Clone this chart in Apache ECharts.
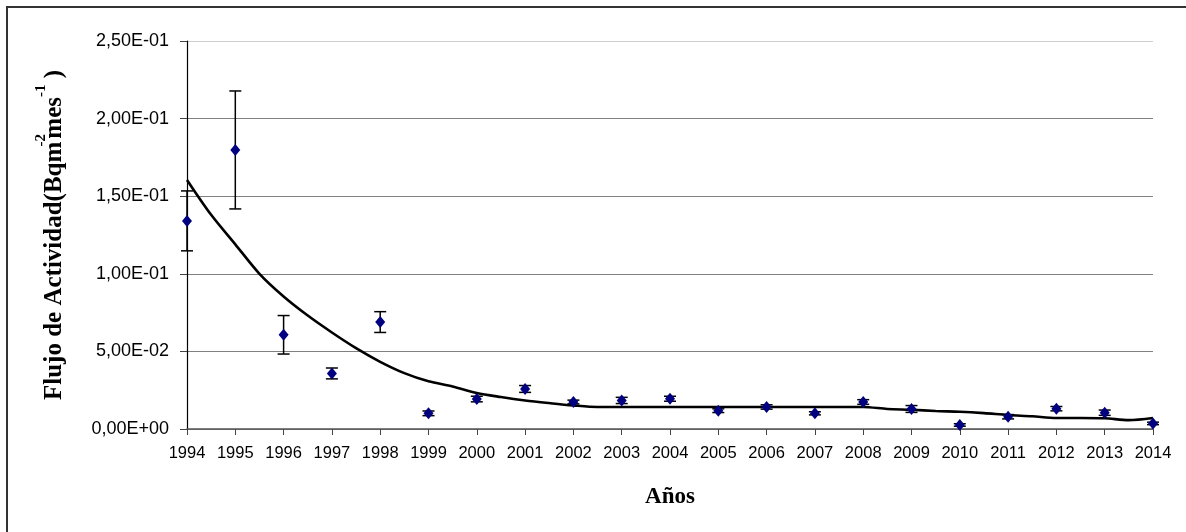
<!DOCTYPE html>
<html>
<head>
<meta charset="utf-8">
<script src="https://cdn.jsdelivr.net/npm/echarts@6/dist/echarts.min.js"></script>
<style>html,body{margin:0;padding:0;background:#fff}#c{width:1186px;height:532px}</style>
</head>
<body>
<div id="c"></div>
<script>
// ---- data ----
var years = [1994,1995,1996,1997,1998,1999,2000,2001,2002,2003,2004,2005,2006,2007,2008,2009,2010,2011,2012,2013,2014];
var flux = [0.1341,0.1798,0.0607,0.0358,0.0689,0.0101,0.0193,0.0258,0.0174,0.0184,0.0195,0.0118,0.0142,0.0101,0.0174,0.0129,0.0026,0.0079,0.0131,0.0105,0.0036];
var fluxErr = [0.0193,0.0380,0.0124,0.0035,0.0067,0.0015,0.0018,0.0022,0.0012,0.0020,0.0016,0.0012,0.0014,0.0010,0.0015,0.0022,0.0008,0.0014,0.0014,0.0017,0.0008];
var trendX = [1994,1994.5,1995,1995.5,1996,1996.5,1997,1997.5,1998,1998.5,1999,1999.5,2000,2000.5,2001,2001.5,2002,2002.5,2003,2004,2005,2006,2007,2008,2008.5,2009,2009.5,2010,2010.5,2011,2011.5,2012,2012.5,2013,2013.5,2014];
var trendY = [0.1605,0.1380,0.1190,0.1000,0.0854,0.0731,0.0622,0.0521,0.0433,0.0360,0.0307,0.0274,0.0232,0.0206,0.0184,0.0167,0.0152,0.0142,0.0142,0.0142,0.0142,0.0142,0.0142,0.0142,0.0129,0.0124,0.0116,0.0111,0.0102,0.0090,0.0082,0.0071,0.0071,0.0069,0.0057,0.0071];
var yTicks = [0, 0.05, 0.10, 0.15, 0.20, 0.25];
var xTitle = 'Años';

function fmtE(v){
  if (Math.abs(v) < 1e-12) return '0,00E+00';
  var e = Math.floor(Math.log10(v) + 1e-9);
  var m = v / Math.pow(10, e);
  var s = m.toFixed(2).replace('.', ',');
  var sign = e < 0 ? '-' : '+';
  var a = Math.abs(e);
  return s + 'E' + sign + (a < 10 ? '0' + a : '' + a);
}

var pts = years.map(function(y,i){ return [y, flux[i]]; });
var errData = years.map(function(y,i){ return [y, flux[i]-fluxErr[i], flux[i]+fluxErr[i]]; });
var trend = trendX.map(function(x,i){ return [x, trendY[i]]; });

var chart = echarts.init(document.getElementById('c'), null, {renderer:'canvas'});
chart.setOption({
  animation: false,
  backgroundColor: '#fff',
  grid: {left: 187, right: 33, top: 41, bottom: 103, containLabel: false},
  graphic: [{
    type: 'rect', z: -10,
    shape: {x: 7, y: 7, width: 1300, height: 700},
    style: {fill: 'none', stroke: '#333', lineWidth: 2}
  }],
  xAxis: {
    type: 'value', min: 1994, max: 2014, interval: 1,
    name: xTitle, nameLocation: 'middle', nameGap: 57,
    nameTextStyle: {fontFamily: 'Liberation Serif', fontWeight: 'bold', fontSize: 23, color: '#000'},
    axisLine: {show: true, onZero: false, lineStyle: {color: '#555', width: 1.5}},
    axisTick: {show: true, length: 6, lineStyle: {color: '#444'}},
    axisLabel: {fontFamily: 'Liberation Sans', fontSize: 16.5, color: '#000', margin: 16, formatter: function(v){ return String(Math.round(v)); }},
    splitLine: {show: false}
  },
  yAxis: {
    type: 'value', min: yTicks[0], max: yTicks[yTicks.length-1], interval: 0.05,
    name: '{n|Flujo de Actividad(Bqm}{s|-2}{n|mes}{t|-1}{n| )}',
    nameLocation: 'middle', nameRotate: 90, nameGap: 120,
    nameTextStyle: {
      rich: {
        n: {fontFamily: 'Liberation Serif', fontWeight: 'bold', fontSize: 25, color: '#000', lineHeight: 33, verticalAlign: 'bottom'},
        s: {fontFamily: 'Liberation Serif', fontWeight: 'bold', fontSize: 15, color: '#000', lineHeight: 33, verticalAlign: 'top', width: 3},
        t: {fontFamily: 'Liberation Serif', fontWeight: 'bold', fontSize: 15, color: '#000', lineHeight: 33, verticalAlign: 'top'}
      }
    },
    axisLine: {show: true, lineStyle: {color: '#000', width: 1.2}},
    axisTick: {show: true, length: 7, lineStyle: {color: '#444'}},
    axisLabel: {fontFamily: 'Liberation Sans', fontSize: 18, color: '#000', margin: 18, formatter: fmtE},
    splitLine: {show: true, lineStyle: {color: ['#808080','#808080','#808080','#808080','#808080','#cfcfcf'], width: 1}}
  },
  series: [
    {
      type: 'custom', name: 'err', data: errData, z: 2,
      renderItem: function(params, api){
        var x = api.value(0);
        var lo = api.coord([x, api.value(1)]);
        var hi = api.coord([x, api.value(2)]);
        var hw = 6;
        var st = {stroke: '#000', lineWidth: 1.5};
        return {type: 'group', children: [
          {type: 'line', shape: {x1: lo[0], y1: lo[1], x2: hi[0], y2: hi[1]}, style: st},
          {type: 'line', shape: {x1: lo[0]-hw, y1: lo[1], x2: lo[0]+hw, y2: lo[1]}, style: st},
          {type: 'line', shape: {x1: hi[0]-hw, y1: hi[1], x2: hi[0]+hw, y2: hi[1]}, style: st}
        ]};
      }
    },
    {
      type: 'line', name: 'trend', data: trend, z: 3,
      showSymbol: false, symbol: 'none', smooth: 0.3,
      lineStyle: {color: '#000', width: 2.6}
    },
    {
      type: 'scatter', name: 'flux', data: pts, z: 4,
      symbol: 'diamond', symbolSize: [10, 12],
      itemStyle: {color: '#000080', opacity: 1}
    }
  ]
});
</script>
</body>
</html>
